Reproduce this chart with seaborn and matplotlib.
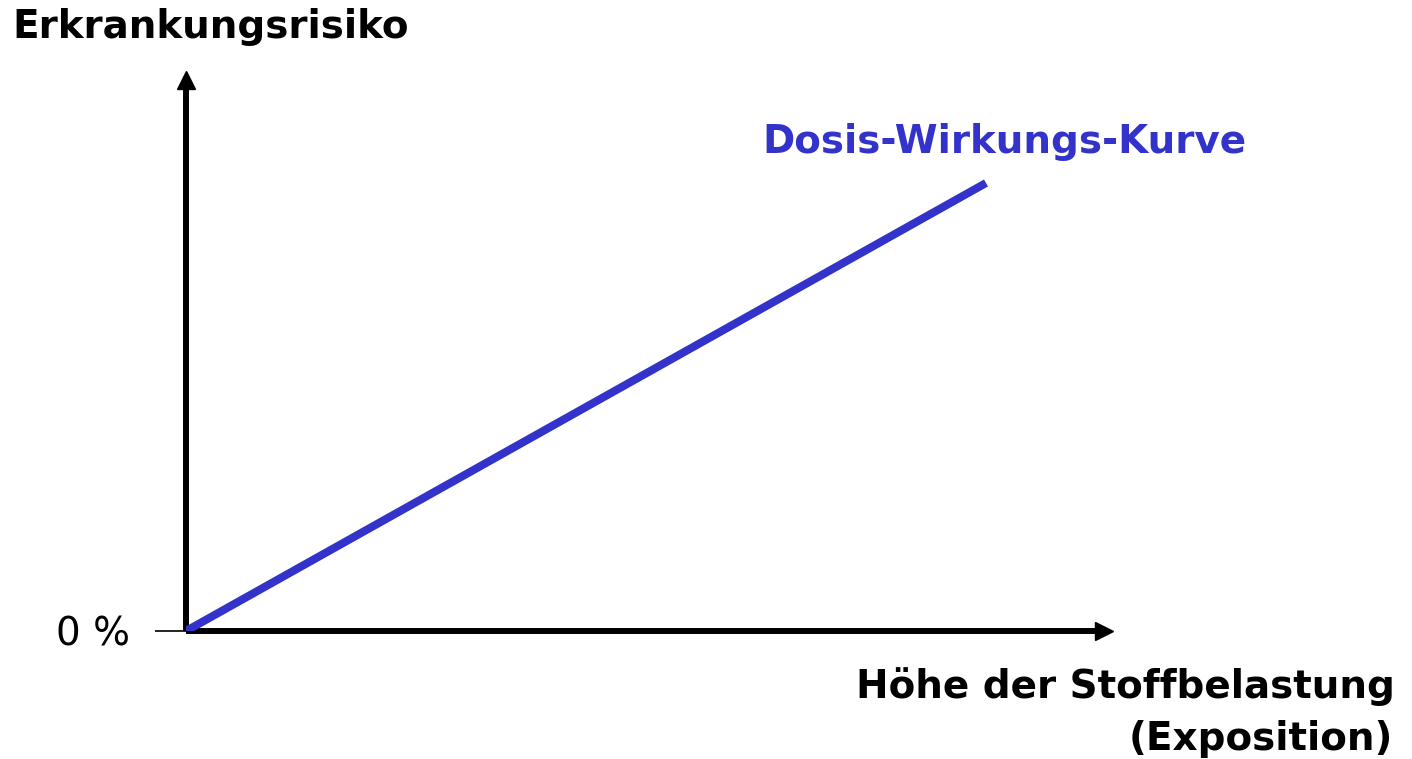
import matplotlib
matplotlib.use("Agg")
import matplotlib.pyplot as plt
import seaborn as sns
import pandas as pd

# Data
exposure = [0, 100]
risk = [0, 100]
curve_label = "Dosis-Wirkungs-Kurve"
y_title = "Erkrankungsrisiko"
x_title_lines = ["Höhe der Stoffbelastung", "(Exposition)"]
y_tick_values = [0]
y_tick_labels = ["0 %"]

sns.set_theme(style="white")
plt.rcParams["font.family"] = ["DejaVu Sans"]
plt.rcParams["text.color"] = "black"

W, H = 1412, 759
fig = plt.figure(figsize=(W / 100, H / 100), dpi=100)
left, right, top, bottom = 186, 1104, 80, 631
ax = fig.add_axes([left / W, 1 - bottom / H, (right - left) / W, (bottom - top) / H])

df = pd.DataFrame({"exposure": exposure, "risk": risk})
blue = "#3333CC"
sns.lineplot(data=df, x="exposure", y="risk", ax=ax, color=blue, linewidth=5.8,
             solid_capstyle="butt", zorder=3)

ax.set_xlim(0, 100 * (right - left) / 800)
ax.set_ylim(0, 100 * (bottom - top) / 448)

for s in ["top", "right"]:
    ax.spines[s].set_visible(False)
for s in ["left", "bottom"]:
    ax.spines[s].set_linewidth(4.3)
    ax.spines[s].set_color("black")
    ax.spines[s].set_zorder(1)
    ax.spines[s].set_capstyle("butt")

# arrow heads
ax.plot(1, 0, marker=">", color="black", markersize=12.5, transform=ax.transAxes, clip_on=False)
ax.plot(0, 1, marker="^", color="black", markersize=12.5, transform=ax.transAxes, clip_on=False)

ax.set_xticks([])
ax.set_yticks(y_tick_values)
ax.set_yticklabels(y_tick_labels, fontsize=28, color="black")
ax.tick_params(axis="y", length=22, width=1.2, color="black", pad=18, left=True)
ax.set_xlabel("")
ax.set_ylabel("")

fs = 28
fig.text(12 / W, 1 - 38 / H, y_title, fontsize=fs, fontweight="bold", ha="left", va="baseline")
fig.text(1395 / W, 1 - 698 / H, x_title_lines[0], fontsize=fs, fontweight="bold", ha="right",
         va="baseline")
fig.text(1393 / W, 1 - 750 / H, x_title_lines[1], fontsize=fs, fontweight="bold", ha="right",
         va="baseline")
fig.text(1004 / W, 1 - 153 / H, curve_label, fontsize=fs, fontweight="bold", color=blue,
         ha="center", va="baseline")

fig.savefig("out.png", dpi=100)
